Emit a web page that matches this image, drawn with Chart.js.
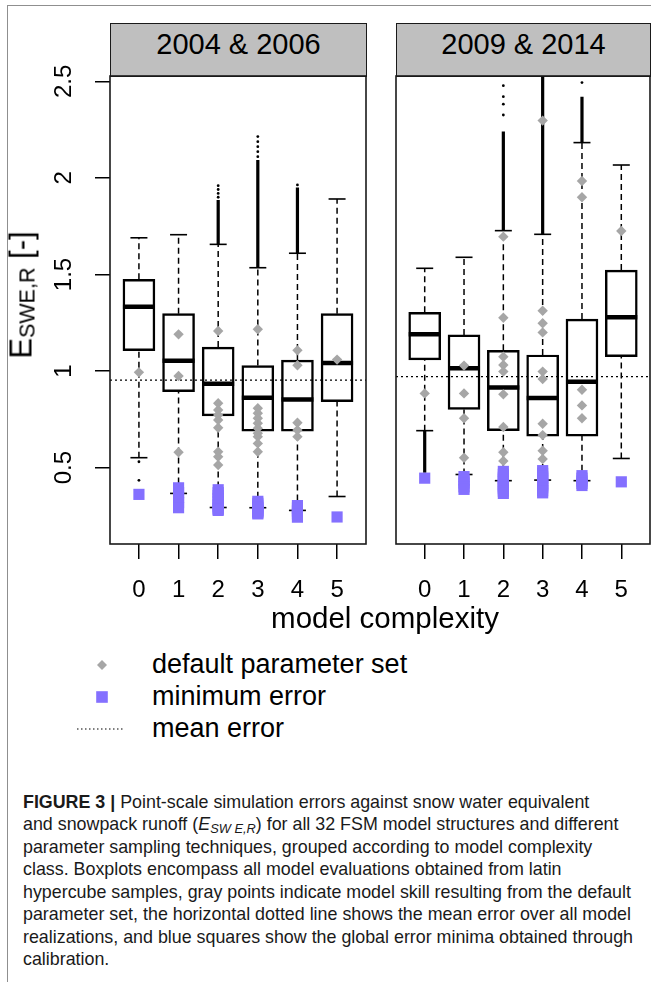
<!DOCTYPE html>
<html>
<head>
<meta charset="utf-8">
<script src="https://cdn.jsdelivr.net/npm/chart.js@4.4.1/dist/chart.umd.min.js"></script>
<style>
  html, body { margin: 0; padding: 0; background: #fff; }
  body { width: 651px; height: 982px; position: relative; overflow: hidden;
         font-family: 'Liberation Sans', Arial, sans-serif; color: #000; }
  .frame-top { position: absolute; left: 7px; top: 5px; width: 644px; border-top: 1.5px solid #8f8f8f; }
  .frame-left { position: absolute; left: 7px; top: 5px; height: 977px; border-left: 1.5px solid #8f8f8f; }
  .strip { position: absolute; top: 23px; height: 54px; box-sizing: border-box; border: 1.6px solid #1a1a1a;
           background: #bfbfbf; font-size: 29px; line-height: 41px; text-align: center; white-space: nowrap; }
  canvas { position: absolute; }
  .ytitle { position: absolute; left: 23px; top: 295px; transform: translate(-50%, -50%) rotate(-90deg);
            font-size: 31px; line-height: 34px; white-space: nowrap; }
  .ytitle .sub { font-size: 21.5px; position: relative; top: 3px; }
  .xtitle { position: absolute; left: 385px; top: 601px; transform: translateX(-50%);
            font-size: 29.5px; line-height: 34px; white-space: nowrap; }
  .legtext { position: absolute; left: 152px; font-size: 27px; line-height: 32px; white-space: nowrap; }
  .cap { position: absolute; left: 23px; font-size: 18.5px; line-height: 20px; white-space: nowrap;
         color: #1a1a1a; transform-origin: 0 50%; }
  .cap sub { font-size: 0.72em; line-height: 0; vertical-align: -0.25em; }
</style>
</head>
<body>
<div class="frame-top"></div>
<div class="frame-left"></div>

<div class="strip" id="stripA" style="left:110px; width:257px;"></div>
<div class="strip" id="stripB" style="left:396px; width:255px;"></div>

<canvas id="panelA" width="372" height="566" style="left:0; top:40px;"></canvas>
<canvas id="panelB" width="271" height="566" style="left:380px; top:40px;"></canvas>

<div class="ytitle">E<span class="sub">SWE,R</span> [-]</div>
<div class="xtitle">model complexity</div>

<svg style="position:absolute; left:0; top:640px;" width="160" height="100">
  <polygon points="102,20 107,25 102,30 97,25" fill="#a6a6a6"></polygon>
  <rect x="96.2" y="51.2" width="11.6" height="11.6" fill="#8470ff"></rect>
  <line x1="77" y1="89" x2="123" y2="89" stroke="#000" stroke-width="1.2" stroke-dasharray="1.5,2.5"></line>
</svg>
<div class="legtext" style="top:648px;">default parameter set</div>
<div class="legtext" style="top:680px;">minimum error</div>
<div class="legtext" style="top:712px;">mean error</div>

<div class="cap" style="top:791.5px;"><b>FIGURE 3 |</b> Point-scale simulation errors against snow water equivalent</div>
<div class="cap" style="top:814px;">and snowpack runoff (<i>E<sub>SW E,R</sub></i>) for all 32 FSM model structures and different</div>
<div class="cap" style="top:836.5px;">parameter sampling techniques, grouped according to model complexity</div>
<div class="cap" style="top:859px;">class. Boxplots encompass all model evaluations obtained from latin</div>
<div class="cap" style="top:881.5px;">hypercube samples, gray points indicate model skill resulting from the default</div>
<div class="cap" style="top:904px;">parameter set, the horizontal dotted line shows the mean error over all model</div>
<div class="cap" style="top:926.5px;">realizations, and blue squares show the global error minima obtained through</div>
<div class="cap" style="top:949px;">calibration.</div>

<script>
// categories and axes
const complexity = ['0', '1', '2', '3', '4', '5'];
const panelTitles = ['2004 & 2006', '2009 & 2014'];
const yTickValues = [0.5, 1, 1.5, 2, 2.5];
const yTickLabels = ['0.5', '1', '1.5', '2', '2.5'];
const xRange = [-0.73, 5.73];
const yRange = [0.104, 2.528];

// 2004 & 2006
const lowCapA = [0.551, 0.366, 0.293, 0.292, 0.278, 0.350];
const q1A     = [1.105, 0.893, 0.767, 0.689, 0.689, 0.841];
const medA    = [1.333, 1.053, 0.934, 0.862, 0.853, 1.041];
const q3A     = [1.475, 1.297, 1.124, 1.028, 1.057, 1.297];
const upCapA  = [1.690, 1.706, 1.656, 1.535, 1.610, 1.891];
const denseUpA  = [null, null, 1.886, 2.093, 1.950, null];   // solid runs of outliers above the cap
const denseLowA = [null, null, null, null, null, null];
const outliersA = [[0.530, 0.434], [], [1.90, 1.92, 1.94, 1.96], [2.110, 2.136, 2.162, 2.188, 2.214], [1.964], []];
const defaultA  = [
  [0.993],
  [1.190, 0.974, 0.579],
  [1.207, 0.833, 0.798, 0.772, 0.746, 0.706, 0.582, 0.556, 0.513],
  [1.216, 0.807, 0.781, 0.755, 0.729, 0.703, 0.677, 0.660, 0.625, 0.582],
  [1.107, 1.030, 0.732, 0.694, 0.660],
  [1.059]
];
const minErrA = [
  [0.361],
  [0.395, 0.370, 0.345, 0.318, 0.292],
  [0.385, 0.370, 0.355, 0.340, 0.325, 0.310, 0.300, 0.290, 0.283, 0.278],
  [0.325, 0.315, 0.305, 0.295, 0.290, 0.280, 0.275, 0.270, 0.265, 0.260],
  [0.303, 0.290, 0.275, 0.260, 0.243],
  [0.244]
];
const meanA = 0.953;

// 2009 & 2014
const lowCapB = [0.691, 0.464, 0.432, 0.435, 0.432, 0.547];
const q1B     = [1.057, 0.801, 0.691, 0.663, 0.663, 1.074];
const medB    = [1.190, 1.014, 0.914, 0.860, 0.945, 1.278];
const q3B     = [1.304, 1.187, 1.107, 1.083, 1.269, 1.523];
const upCapB  = [1.532, 1.589, 1.727, 1.708, 2.183, 2.067];
const denseUpB  = [null, null, 2.240, 2.600, 2.420, null];
const denseLowB = [0.473, null, null, null, null, null];
const outliersB = [[], [], [2.326, 2.382, 2.421, 2.478], [], [2.494], []];
const defaultB  = [
  [0.884],
  [1.028, 0.884, 0.755, 0.551],
  [1.696, 1.276, 1.074, 1.031, 0.997, 0.879, 0.710, 0.579, 0.534],
  [2.297, 1.312, 1.247, 1.200, 0.997, 0.959, 0.727, 0.668, 0.587, 0.544],
  [1.984, 1.900, 0.903, 0.822, 0.755],
  [1.725]
];
const minErrB = [
  [0.445],
  [0.453, 0.435, 0.420, 0.400, 0.387],
  [0.480, 0.465, 0.450, 0.440, 0.425, 0.410, 0.400, 0.390, 0.378, 0.366],
  [0.484, 0.470, 0.455, 0.445, 0.430, 0.415, 0.405, 0.395, 0.380, 0.369],
  [0.458, 0.445, 0.430, 0.418, 0.407],
  [0.426]
];
const meanB = 0.971;

Chart.defaults.font.family = "'Liberation Sans', Arial, sans-serif";

document.getElementById('stripA').textContent = panelTitles[0];
document.getElementById('stripB').textContent = panelTitles[1];

const pts = vals => vals.flatMap((v, i) => v.map(y => ({ x: i, y })));
const one = vals => vals.map((y, i) => ({ x: i, y }));
function segs(from, to) {
  const out = [];
  from.forEach((v, i) => {
    if (v == null || to[i] == null) return;
    out.push({ x: i, y: v }, { x: i, y: to[i] }, { x: i, y: null });
  });
  return out;
}

function datasets(d) {
  return [
    { type: 'scatter', label: 'minimum error', data: pts(d.minErr), pointStyle: 'rect', pointRadius: 7.9,
      pointBackgroundColor: '#8470ff', pointBorderWidth: 0, order: 0 },
    { type: 'scatter', label: 'default parameter set', data: pts(d.def), pointStyle: 'rectRot', pointRadius: 5.2,
      pointBackgroundColor: '#a6a6a6', pointBorderWidth: 0, order: 1 },
    { type: 'scatter', label: 'median', data: one(d.med), pointStyle: 'line', pointRadius: 16,
      pointBorderColor: '#000', pointBorderWidth: 4.5, order: 2 },
    { type: 'line', label: 'mean error', data: [{ x: xRange[0], y: d.mean }, { x: xRange[1], y: d.mean }],
      borderColor: '#000', borderWidth: 1.4, borderDash: [2, 3], pointRadius: 0, order: 3 },
    { type: 'bar', label: 'box', data: d.q1.map((q, i) => ({ x: i, y: [q, d.q3[i]] })),
      backgroundColor: 'rgba(0,0,0,0)', borderColor: '#000', borderWidth: 1.8, borderSkipped: false,
      barThickness: 32, grouped: false, order: 4 },
    { type: 'scatter', label: 'whisker caps', data: one(d.lowCap).concat(one(d.upCap)), pointStyle: 'line',
      pointRadius: 8.5, pointBorderColor: '#000', pointBorderWidth: 1.6, order: 5 },
    { type: 'line', label: 'whiskers', data: segs(d.q3, d.upCap).concat(segs(d.lowCap, d.q1)),
      borderColor: '#000', borderWidth: 1.5, borderDash: [6, 4], pointRadius: 0, order: 6 },
    { type: 'line', label: 'dense outliers', data: segs(d.upCap, d.denseUp).concat(segs(d.lowCap, d.denseLow)),
      borderColor: '#000', borderWidth: 3.2, pointRadius: 0, order: 7 },
    { type: 'scatter', label: 'outliers', data: pts(d.outliers), pointStyle: 'circle', pointRadius: 1.4,
      pointBackgroundColor: '#000', pointBorderWidth: 0, order: 8 }
  ];
}

const panelFrame = {
  id: 'panelFrame',
  afterDraw(chart) {
    const { ctx, chartArea: a } = chart;
    ctx.save();
    ctx.strokeStyle = '#1a1a1a';
    ctx.lineWidth = 1.6;
    ctx.strokeRect(a.left, a.top, a.right - a.left, a.bottom - a.top);
    ctx.restore();
  }
};

const yLabels = {
  id: 'yLabels',
  afterDraw(chart) {
    const { ctx } = chart;
    const y = chart.scales.y;
    ctx.save();
    ctx.font = "24px 'Liberation Sans', Arial, sans-serif";
    ctx.fillStyle = '#000';
    ctx.textAlign = 'center';
    ctx.textBaseline = 'middle';
    yTickValues.forEach((v, i) => {
      ctx.save();
      ctx.translate(64, y.getPixelForValue(v));
      ctx.rotate(-Math.PI / 2);
      ctx.fillText(yTickLabels[i], 0, 0);
      ctx.restore();
    });
    ctx.restore();
  }
};

function makePanel(id, d, withY) {
  return new Chart(document.getElementById(id), {
    type: 'bar',
    data: { datasets: datasets(d) },
    options: {
      responsive: false,
      animation: false,
      events: [],
      devicePixelRatio: 1,
      layout: {
        autoPadding: false,
        padding: withY ? { top: 36, right: 6, left: 0, bottom: 0 } : { top: 36, right: 1, left: 16, bottom: 0 }
      },
      plugins: { legend: { display: false }, tooltip: { enabled: false } },
      scales: {
        x: {
          type: 'linear', min: xRange[0], max: xRange[1], offset: false,
          afterBuildTicks: s => { s.ticks = complexity.map((c, i) => ({ value: i })); },
          afterFit: s => { s.height = 62; },
          ticks: { callback: v => complexity[v], font: { size: 24 }, color: '#000', padding: 17,
                   maxRotation: 0, autoSkip: false },
          grid: { display: true, drawOnChartArea: false, drawTicks: true, tickLength: 15,
                  color: '#000', lineWidth: 1.5, offset: false },
          border: { display: false }
        },
        y: {
          type: 'linear', display: withY, min: yRange[0], max: yRange[1],
          afterBuildTicks: s => { s.ticks = yTickValues.map(v => ({ value: v })); },
          afterFit: s => { s.width = withY ? 110 : 0; },
          ticks: { display: false },
          grid: { drawOnChartArea: false, drawTicks: true, tickLength: 15, color: '#000', lineWidth: 1.5 },
          border: { display: false }
        }
      }
    },
    plugins: withY ? [panelFrame, yLabels] : [panelFrame]
  });
}

makePanel('panelA', {
  lowCap: lowCapA, q1: q1A, med: medA, q3: q3A, upCap: upCapA, denseUp: denseUpA, denseLow: denseLowA,
  outliers: outliersA, def: defaultA, minErr: minErrA, mean: meanA
}, true);
makePanel('panelB', {
  lowCap: lowCapB, q1: q1B, med: medB, q3: q3B, upCap: upCapB, denseUp: denseUpB, denseLow: denseLowB,
  outliers: outliersB, def: defaultB, minErr: minErrB, mean: meanB
}, false);

// squeeze caption lines to the width of the reference text block
const capLines = document.querySelectorAll('.cap');
let widest = 0;
capLines.forEach(l => { widest = Math.max(widest, l.getBoundingClientRect().width); });
const sx = 610 / widest;
capLines.forEach(l => { l.style.transform = 'scaleX(' + sx + ')'; });
</script>
</body>
</html>
